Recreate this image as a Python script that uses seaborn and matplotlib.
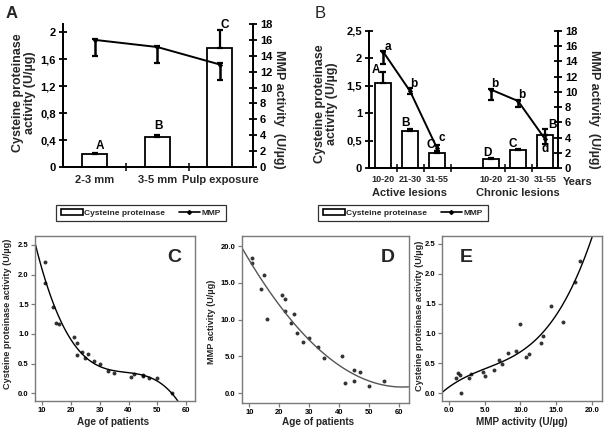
import numpy as np
import pandas as pd
import matplotlib
matplotlib.use("Agg")
import matplotlib.pyplot as plt
import seaborn as sns
from matplotlib.patches import Patch
from matplotlib.lines import Line2D
from matplotlib.ticker import FuncFormatter, FixedLocator, MultipleLocator

# ---------------- data ----------------
# Panel A
a_cats = ["2-3 mm", "3-5 mm", "Pulp exposure"]
a_cp = [0.19, 0.45, 1.76]
a_cp_err = [0.02, 0.03, 0.27]
a_mmp = [16.0, 15.1, 12.9]
a_mmp_err_lo = [2.0, 2.0, 2.0]
a_mmp_err_hi = [0.15, 0.15, 0.15]
a_cp_letters = ["A", "B", "C"]

# Panel B
b_groups = ["Active lesions", "Chronic lesions"]
b_ages = ["10-20", "21-30", "31-55"]
b_cp = [1.56, 0.68, 0.28, 0.165, 0.33, 0.61]
b_cp_err = [0.20, 0.03, 0.03, 0.02, 0.02, 0.11]
b_mmp = [15.3, 10.1, 2.6, 10.3, 8.8, 3.8]
b_mmp_err_lo = [1.6, 0.4, 0.4, 1.4, 0.8, 0.6]
b_mmp_err_hi = [0.1, 0.4, 0.4, 0.1, 0.1, 0.6]
b_cp_letters = ["A", "B", "C", "D", "C", "B"]
b_mmp_letters = ["a", "b", "c", "b", "b", "d"]

# Panels C-E (per patient)
age = [11, 11, 14, 15, 16, 21, 22, 22, 24, 25, 26, 28, 30, 33, 35, 41, 42, 45, 45, 47, 50, 55]
cp_age = [2.21, 1.85, 1.45, 1.19, 1.16, 0.95, 0.84, 0.65, 0.70, 0.60, 0.67, 0.55, 0.49,
          0.38, 0.35, 0.28, 0.33, 0.30, 0.29, 0.26, 0.25, 0.00]
age_d = [11, 11, 14, 15, 16, 21, 22, 22, 24, 25, 26, 28, 30, 33, 35, 41, 42, 45, 45, 47, 50, 55]
mmp_age = [18.4, 17.7, 14.2, 16.1, 10.1, 13.3, 12.8, 11.2, 9.5, 10.8, 8.2, 7.0, 7.5,
           6.3, 4.8, 5.1, 1.3, 3.1, 1.6, 2.8, 0.9, 1.7]
mmp_e = [0.93, 1.3, 1.6, 1.7, 2.8, 3.1, 4.75, 5.1, 6.3, 7.0, 7.4, 8.2, 9.4, 10.0, 10.7,
         11.2, 12.8, 13.2, 14.2, 16.0, 17.6, 18.3]
cp_e = [0.25, 0.34, 0.30, 0.01, 0.25, 0.32, 0.36, 0.28, 0.39, 0.56, 0.49, 0.67, 0.70,
        1.16, 0.60, 0.65, 0.84, 0.95, 1.46, 1.19, 1.86, 2.21]

# ---------------- style ----------------
sns.set_theme(style="ticks")
plt.rcParams["font.family"] = ["Liberation Sans", "DejaVu Sans"]
plt.rcParams["font.weight"] = "bold"
plt.rcParams["axes.labelweight"] = "bold"

W, H = 608, 432
fig = plt.figure(figsize=(6.08, 4.32), dpi=100)


def box(l, t, r, b):
    return [l / W, 1 - b / H, (r - l) / W, (b - t) / H]


comma = FuncFormatter(lambda v, p: f"{v:g}".replace(".", ","))
BW = 1.3


def style_bar_axes(ax, ax2):
    for a in (ax, ax2):
        a.spines["top"].set_visible(False)
        for s in a.spines.values():
            s.set_linewidth(BW)
            s.set_color("black")
    ax.tick_params(axis="y", direction="inout", length=6, width=BW, labelsize=8, pad=2, colors="black")
    ax2.tick_params(axis="y", direction="inout", length=6, width=BW, labelsize=8, pad=2, colors="black")
    ax.tick_params(axis="x", which="major", length=0, labelsize=8, pad=6)
    ax.tick_params(axis="x", which="minor", direction="inout", length=6, width=BW)
    ax.set_xlabel("")
    ax.set_ylabel("")
    ax2.set_ylabel("")


def put(ax, x, y, s, dx, dy, fs=8.5, fw="bold"):
    ax.annotate(s, (x, y), xytext=(dx, dy), textcoords="offset pixels",
                ha="center", va="center", fontsize=fs, fontweight=fw, color="black")


# ---------------- Panel A ----------------
axA = fig.add_axes(box(63, 24, 253, 167))
dfA = pd.DataFrame({"cat": a_cats, "cp": a_cp})
sns.barplot(data=dfA, x="cat", y="cp", order=a_cats, color="white", saturation=1,
            edgecolor="black", linewidth=BW, width=0.4, ax=axA, errorbar=None)
posA = np.arange(len(a_cats))
axA.errorbar(posA, a_cp, yerr=[np.zeros(len(a_cp)), a_cp_err], fmt="none", ecolor="black",
             elinewidth=1.6, capsize=2.5, capthick=1.6, zorder=5)
axA2 = axA.twinx()
sns.lineplot(x=posA, y=a_mmp, ax=axA2, color="black", lw=1.4, marker="D", markersize=2,
             markeredgecolor="black", legend=False)
axA2.errorbar(posA, a_mmp, yerr=[a_mmp_err_lo, a_mmp_err_hi], fmt="none", ecolor="black",
              elinewidth=1.8, capsize=2.5, capthick=1.6)
axA.set_xlim(-0.51, 2.53)
axA.set_ylim(0, 2.12)
axA.yaxis.set_major_locator(FixedLocator([0, 0.4, 0.8, 1.2, 1.6, 2.0]))
axA.yaxis.set_major_formatter(comma)
axA2.set_ylim(0, 18)
axA2.yaxis.set_major_locator(MultipleLocator(2))
axA.xaxis.set_minor_locator(FixedLocator([0.5, 1.5]))
style_bar_axes(axA, axA2)
for i, L in enumerate(a_cp_letters):
    put(axA, posA[i], a_cp[i] + a_cp_err[i], L, [5, 1, 5][i], [7, 9, 5][i])

fig.text(12 / W, 1 - 14 / H, "A", fontsize=12, fontweight="bold", ha="center", va="center")
fig.text(24 / W, 1 - 93 / H, "Cysteine proteinase\nactivity (U/µg)", rotation=90,
         fontsize=9, fontweight="bold", ha="center", va="center", linespacing=1.0)
fig.text(279 / W, 1 - 109 / H, "MMP activity  (U/µg)", rotation=-90,
         fontsize=9, fontweight="bold", ha="center", va="center")

# ---------------- Panel B ----------------
axB = fig.add_axes(box(369, 31, 558, 168))
keys = [f"{g} {a}" for g in b_groups for a in b_ages]
orderB = keys[:3] + ["gap"] + keys[3:]
dfB = pd.DataFrame({"key": keys, "cp": b_cp})
sns.barplot(data=dfB, x="key", y="cp", order=orderB, color="white", saturation=1,
            edgecolor="black", linewidth=BW, width=0.62, ax=axB, errorbar=None)
posB = np.array([orderB.index(k) for k in keys])
axB.errorbar(posB, b_cp, yerr=[np.zeros(len(b_cp)), b_cp_err], fmt="none", ecolor="black",
             elinewidth=1.6, capsize=2.5, capthick=1.6, zorder=5)
axB2 = axB.twinx()
for sl in (slice(0, 3), slice(3, 6)):
    sns.lineplot(x=posB[sl], y=b_mmp[sl], ax=axB2, color="black", lw=1.4, marker="D",
                 markersize=2, markeredgecolor="black", legend=False)
axB2.errorbar(posB, b_mmp, yerr=[b_mmp_err_lo, b_mmp_err_hi], fmt="none", ecolor="black",
              elinewidth=1.8, capsize=2.5, capthick=1.6)
axB.set_xlim(-0.52, 6.48)
axB.set_ylim(0, 2.5)
axB.yaxis.set_major_locator(MultipleLocator(0.5))
axB.yaxis.set_major_formatter(comma)
axB2.set_ylim(0, 18)
axB2.yaxis.set_major_locator(MultipleLocator(2))
axB.set_xticks(posB)
axB.set_xticklabels(b_ages * 2)
axB.xaxis.set_minor_locator(FixedLocator([0.5, 1.5, 2.5, 4.5, 5.5]))
style_bar_axes(axB, axB2)
axB.tick_params(axis="x", which="major", labelsize=6.5, pad=5)
cp_dx = [-7, -5, -6, -4, -5, 7]
cp_dy = [2, 6, 6, 5, 5, 4]
mm_dx = [5, 4, 5, 4, 4, 0]
mm_dy = [5, 7, 10, 6, 6, -10]
for i in range(6):
    put(axB, posB[i], b_cp[i] + b_cp_err[i], b_cp_letters[i], cp_dx[i], cp_dy[i])
    put(axB2, posB[i], b_mmp[i], b_mmp_letters[i], mm_dx[i], mm_dy[i])

fig.text(320 / W, 1 - 14 / H, "B", fontsize=12, fontweight="normal", ha="center", va="center")
fig.text(326 / W, 1 - 104 / H, "Cysteine proteinase\nactivity (U/µg)", rotation=90,
         fontsize=9, fontweight="bold", ha="center", va="center", linespacing=1.0)
fig.text(594 / W, 1 - 109 / H, "MMP activity  (U/µg)", rotation=-90,
         fontsize=9, fontweight="bold", ha="center", va="center")
fig.text(578 / W, 1 - 182 / H, "Years", fontsize=8, fontweight="bold", ha="center", va="center")
fig.text(410 / W, 1 - 193 / H, b_groups[0], fontsize=8, fontweight="bold", ha="center", va="center")
fig.text(518 / W, 1 - 193 / H, b_groups[1], fontsize=8, fontweight="bold", ha="center", va="center")

# legends
handles = [Patch(facecolor="white", edgecolor="black", linewidth=1.2),
           Line2D([], [], color="black", lw=1.2, marker="D", markersize=2)]
labels = ["Cysteine proteinase", "MMP"]
for cx in (141, 403):
    lg = fig.legend(handles, labels, loc="center", bbox_to_anchor=(cx / W, 1 - 213 / H),
                    ncol=2, fontsize=6, frameon=True, fancybox=False, edgecolor="black",
                    handlelength=2.6, handleheight=0.6, handletextpad=0.2, columnspacing=1.6,
                    borderpad=0.55, borderaxespad=0)
    lg.get_frame().set_linewidth(0.9)
    for t in lg.get_texts():
        t.set_fontweight("bold")

# ---------------- Panels C-E ----------------
GRAY = "#7a7a7a"


def style_sc(ax):
    for s in ax.spines.values():
        s.set_visible(True)
        s.set_color(GRAY)
        s.set_linewidth(1.0)
    ax.tick_params(axis="both", direction="out", length=3, width=0.9, color=GRAY,
                   labelsize=5.5, pad=1.5, labelcolor="black")
    for lab in ax.get_xticklabels() + ax.get_yticklabels():
        lab.set_fontweight("bold")
    ax.set_xlabel("")
    ax.set_ylabel("")


fmt1 = FuncFormatter(lambda v, p: f"{v:.1f}")

axC = fig.add_axes(box(35, 236, 195, 401))
axC.set_xlim(7.6, 63)
axC.set_ylim(-0.13, 2.65)
sns.regplot(x=age, y=cp_age, order=3, ci=None, truncate=False, ax=axC,
            scatter_kws=dict(s=8, color="black", linewidths=0),
            line_kws=dict(color="black", lw=1.0))
axC.set_xlim(7.6, 63)
axC.set_ylim(-0.13, 2.65)
axC.xaxis.set_major_locator(MultipleLocator(10))
axC.yaxis.set_major_locator(MultipleLocator(0.5))
axC.yaxis.set_major_formatter(fmt1)
style_sc(axC)
axC.text(0.87, 0.87, "C", transform=axC.transAxes, fontsize=14, fontweight="bold",
         ha="center", va="center")

axD = fig.add_axes(box(242, 236, 409, 403))
axD.set_xlim(7.5, 63.4)
axD.set_ylim(-1.36, 21.4)
sns.regplot(x=age_d, y=mmp_age, order=2, ci=None, truncate=False, ax=axD,
            scatter_kws=dict(s=8, color="black", linewidths=0),
            line_kws=dict(color="#555555", lw=1.0))
axD.set_xlim(7.5, 63.4)
axD.set_ylim(-1.36, 21.4)
axD.xaxis.set_major_locator(MultipleLocator(10))
axD.yaxis.set_major_locator(MultipleLocator(5))
axD.yaxis.set_major_formatter(fmt1)
style_sc(axD)
axD.text(0.87, 0.87, "D", transform=axD.transAxes, fontsize=14, fontweight="bold",
         ha="center", va="center")

axE = fig.add_axes(box(442, 236, 602, 401))
axE.set_xlim(-0.98, 21.4)
axE.set_ylim(-0.13, 2.63)
sns.regplot(x=mmp_e, y=cp_e, order=3, ci=None, truncate=False, ax=axE,
            scatter_kws=dict(s=8, color="black", linewidths=0),
            line_kws=dict(color="black", lw=1.0))
axE.set_xlim(-0.98, 21.4)
axE.set_ylim(-0.13, 2.63)
axE.xaxis.set_major_locator(MultipleLocator(5))
axE.xaxis.set_major_formatter(fmt1)
axE.yaxis.set_major_locator(MultipleLocator(0.5))
axE.yaxis.set_major_formatter(fmt1)
style_sc(axE)
axE.text(0.15, 0.87, "E", transform=axE.transAxes, fontsize=14, fontweight="bold",
         ha="center", va="center")

for (xc, yc, s) in [(8, 314, "Cysteine proteinase activity (U/µg)"),
                    (212, 322, "MMP activity (U/µg)"),
                    (419, 316, "Cysteine proteinase activity (U/µg)")]:
    fig.text(xc / W, 1 - yc / H, s, rotation=90, fontsize=6.6, fontweight="bold",
             ha="center", va="center")
for (xc, s) in [(113, "Age of patients"), (318, "Age of patients"), (522, "MMP activity (U/µg)")]:
    fig.text(xc / W, 1 - 422 / H, s, fontsize=7.2, fontweight="bold", ha="center", va="center")

fig.savefig("out.png", dpi=100)
